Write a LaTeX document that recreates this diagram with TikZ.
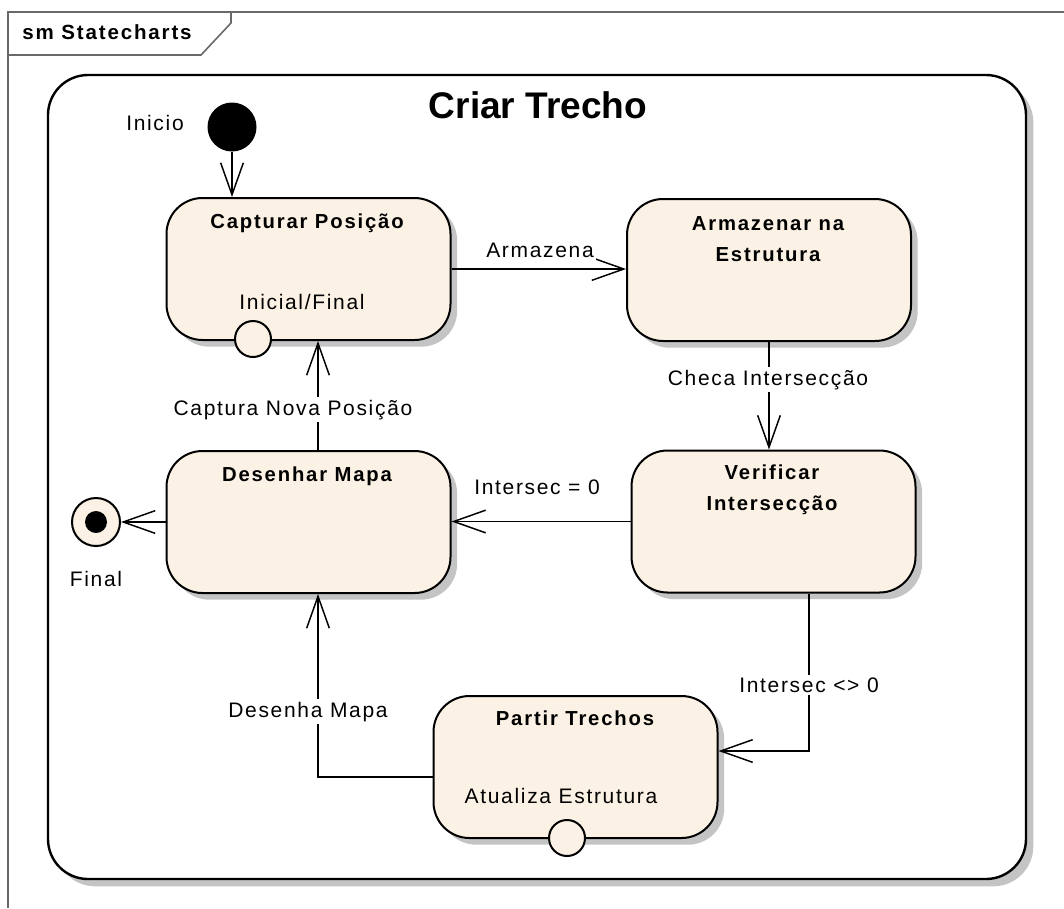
\documentclass[tikz,border=0pt]{standalone}
\usepackage{fontspec}
\setmainfont{Liberation Sans}
\newfontfamily\labfont[LetterSpace=8]{Liberation Sans}
\newfontfamily\namefont[LetterSpace=9]{Liberation Sans}
\usetikzlibrary{arrows.meta,shadows}
\definecolor{statefill}{RGB}{251,241,228}
\definecolor{framegray}{RGB}{105,105,105}
\definecolor{shadowgray}{RGB}{196,196,196}
\begin{document}
\begin{tikzpicture}[x=0.75pt,y=-0.75pt,
  statebox/.style={draw=black, line width=1.5pt, fill=statefill,
    rounded corners=27pt, minimum width=213pt, minimum height=106.5pt, inner sep=0pt,
    drop shadow={shadow xshift=5pt, shadow yshift=-5pt, fill=shadowgray, opacity=1}},
  composite/.style={draw=black, line width=1.8pt, fill=white,
    rounded corners=30pt, minimum width=733.5pt, minimum height=603pt, inner sep=0pt,
    drop shadow={shadow xshift=5.5pt, shadow yshift=-5.5pt, fill=shadowgray, opacity=1}},
  statename/.style={anchor=base, inner sep=0pt, align=center,
    font=\namefont\bfseries\fontsize{15.2}{23}\selectfont},
  plaintext/.style={anchor=base, inner sep=0pt,
    font=\labfont\fontsize{15.75}{18}\selectfont},
  translabel/.style={anchor=base, inner sep=2pt, fill=white,
    font=\labfont\fontsize{15.75}{18}\selectfont},
  transition/.style={draw=black, line width=1.1pt,
    -{Straight Barb[length=24pt, width=17pt, line width=1.1pt]}},
  pseudo/.style={circle, draw=black, line width=1.5pt, fill=statefill,
    inner sep=0pt, minimum size=27pt}
]
\useasboundingbox (0,0) rectangle (1064,908);

% diagram frame with its name tab
\draw[framegray, line width=1.2pt] (1064,12) -- (8,12) -- (8,908);
\draw[framegray, line width=1.2pt] (8,55) -- (201,55) -- (231,23) -- (231,12);
\node[anchor=base west, inner sep=0pt,
  font=\namefont\bfseries\fontsize{15.4}{17}\selectfont] (frametitle) at (22,39) {sm Statecharts};

% composite state
\node[composite] (crt) at (537,477) {};
\node[anchor=base, inner sep=0pt, font=\bfseries\fontsize{27.8}{30}\selectfont] (crttitle) at (538,118) {Criar Trecho};

% simple states
\node[statebox] (cap) at (308.5,269) {};
\node[statebox] (arm) at (769,270) {};
\node[statebox] (ver) at (773.5,521.5) {};
\node[statebox] (des) at (308.5,522) {};
\node[statebox] (par) at (575.5,767) {};

% state names (two-line names sit on the baseline of their last line)
\node[statename] (capname) at (307,228) {Capturar Posição};
\node[plaintext] (capentry) at (302,309) {Inicial/Final};
\node[statename] (armname) at (768,261) {Armazenar na\\Estrutura};
\node[statename] (vername) at (772,510) {Verificar\\Intersecção};
\node[statename] (desname) at (307,481) {Desenhar Mapa};
\node[statename] (parname) at (575,725) {Partir Trechos};
\node[plaintext] (parentry) at (561,803) {Atualiza Estrutura};

% pseudo states
\node[circle, fill=black, inner sep=0pt, minimum size=36.75pt] (ini) at (232,127) {};
\node[plaintext] (initext) at (155,130) {Inicio};
\node[circle, draw=black, line width=1.5pt, fill=statefill, inner sep=0pt, minimum size=36pt] (fin) at (96,522) {};
\node[circle, fill=black, inner sep=0pt, minimum size=16.5pt] (findot) at (fin) {};
\node[plaintext] (fintext) at (96,586) {Final};

% helper coordinates for the orthogonal routes
\coordinate (xa) at (318,0);
\coordinate (xb) at (809,0);
\coordinate (ya) at (0,751);
\coordinate (yb) at (0,777);

% transitions
\draw[transition] (ini.south) -- (ini.south |- cap.north);
\draw[transition] (cap.east) -- (cap.east -| arm.west);
\draw[transition] (arm.south) -- (arm.south |- ver.north);
\draw[transition] (ver.west) -- (ver.west -| des.east);
\draw[transition] (des.north -| xa) -- (cap.south -| xa);
\draw[transition] (des.west) -- (fin.east);
\draw[transition] (ver.south -| xb) -- (xb |- ya) -- (par.east |- ya);
\draw[transition] (par.west |- yb) -- (xa |- yb) -- (des.south -| xa);

% transition labels
\node[translabel] (lblarm) at (540,257) {Armazena};
\node[translabel] (lblchk) at (768,385) {Checa Intersecção};
\node[translabel] (lblzero) at (537,494) {Intersec = 0};
\node[translabel] (lblnew) at (293,415) {Captura Nova Posição};
\node[translabel] (lblnz) at (809,692) {Intersec <> 0};
\node[translabel] (lbldraw) at (308,717) {Desenha Mapa};

% entry points on the state borders
\node[pseudo] (capep) at (253,339) {};
\node[pseudo] (parep) at (567,838) {};
\end{tikzpicture}
\end{document}
